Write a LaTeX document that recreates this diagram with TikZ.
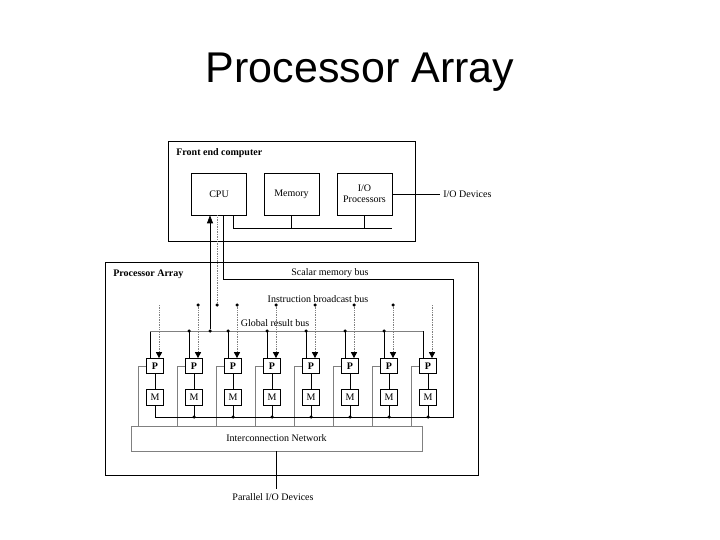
\documentclass[tikz,border=0pt]{standalone}
\usepackage{fontspec}
\setmainfont{Liberation Serif}
\newfontfamily\headfont{Liberation Sans}
\usetikzlibrary{arrows.meta}
\newcommand\diagfont{\fontsize{10}{11}\selectfont}
\tikzset{>=stealth,
  unit/.style={draw, minimum width=55pt, minimum height=42pt, inner sep=0pt, align=center, font=\diagfont},
  pe/.style={draw, minimum width=17pt, minimum height=15pt, inner sep=0pt, font=\diagfont},
  lbl/.style={inner sep=0pt, font=\diagfont},
  jdot/.style={circle, fill, inner sep=0pt, minimum size=3.5pt},
  bcast/.style={gray, densely dotted, -{Triangle[width=6pt,length=6pt,color=black,fill=black]}},
}

\begin{document}
\begin{tikzpicture}[x=1pt,y=-1pt,line width=0.7pt]
  \useasboundingbox (0,0) rectangle (720,540);
  \node[anchor=base, font=\headfont\fontsize{43}{43}\selectfont] (title) at (360,83) {Processor Array};
  % front end computer
  \node[draw, minimum width=247pt, minimum height=100pt] (fec) at (291.5,191) {};
  \node[lbl, anchor=west, font=\diagfont\bfseries] at (176,153) {Front end computer};
  \node[unit] (cpu) at (219,194) {CPU};
  \node[unit] (mem) at (291.5,194) {Memory};
  \node[unit] (iop) at (364.5,194) {I/O\\Processors};
  \node[lbl, anchor=west] (iodev) at (443,194) {I/O Devices};
  \draw (iop.east) -- ([xshift=-3pt]iodev.west);
  \coordinate (febus) at (392,228);
  \draw ([xshift=14pt]cpu.south) |- (febus);
  \draw (mem.south) -- (mem.south |- febus);
  \draw (iop.south) -- (iop.south |- febus);
  % processor array
  \node[draw, minimum width=373pt, minimum height=213pt] (pa) at (291.5,368.5) {};
  \node[lbl, anchor=west, font=\diagfont\bfseries] at (113,274) {Processor Array};
  \node[draw, gray, text=black, minimum width=291pt, minimum height=25pt, font=\diagfont] (net) at (276.5,438.5) {Interconnection Network};
  \node[lbl] (pio) at (273,497) {Parallel I/O Devices};
  \draw (net.south) -- (net.south |- 0,489);
  \foreach \i in {0,...,7}{
    \pgfmathsetmacro\px{155+39*\i}
    \node[pe, font=\diagfont\bfseries] (p\i) at (\px,366) {P};
    \node[pe, minimum height=16pt] (m\i) at (\px,397) {M};
    \draw (p\i) -- (m\i);
    \draw[gray] (p\i.west) -| (\px-17,426);
    \draw ([xshift=-5pt]p\i.north) -- (\px-5,331);
    \draw[bcast] (\px+4,305) -- ([xshift=4pt]p\i.north);
  }
  % instruction broadcast bus
  \node[jdot] (ib0) at (217,305) {};
  \draw[gray, densely dotted] ([xshift=-2pt]cpu.south) -- (ib0);
  \foreach \i in {1,...,6}
    \node[jdot] at ([xshift=4pt]p\i.north |- ib0) {};
  \node[lbl] at (318,299) {Instruction broadcast bus};
  % global result bus
  \coordinate (grb0) at (150,331);
  \coordinate (grb7) at (423,331);
  \draw[gray] (grb0) -- (grb7);
  \foreach \i in {1,...,6}
    \node[jdot] at ([xshift=-5pt]p\i.north |- grb0) {};
  \node[jdot] (grbcpu) at (210,331) {};
  \draw[-{Triangle[width=6pt,length=8pt]}] (grbcpu) -- ([xshift=-9pt]cpu.south);
  \node[lbl] at (275,323) {Global result bus};
  % scalar memory bus
  \coordinate (smbtop) at (453,279);
  \coordinate (smbbot) at (453,417);
  \draw ([xshift=4pt]cpu.south) |- (smbtop) -- (smbbot) -| (m0.south);
  \foreach \i in {1,...,7}
    \draw (m\i.south) -- (m\i.south |- smbbot) node[jdot] {};
  \node[lbl] at (330,273) {Scalar memory bus};
\end{tikzpicture}
\end{document}
